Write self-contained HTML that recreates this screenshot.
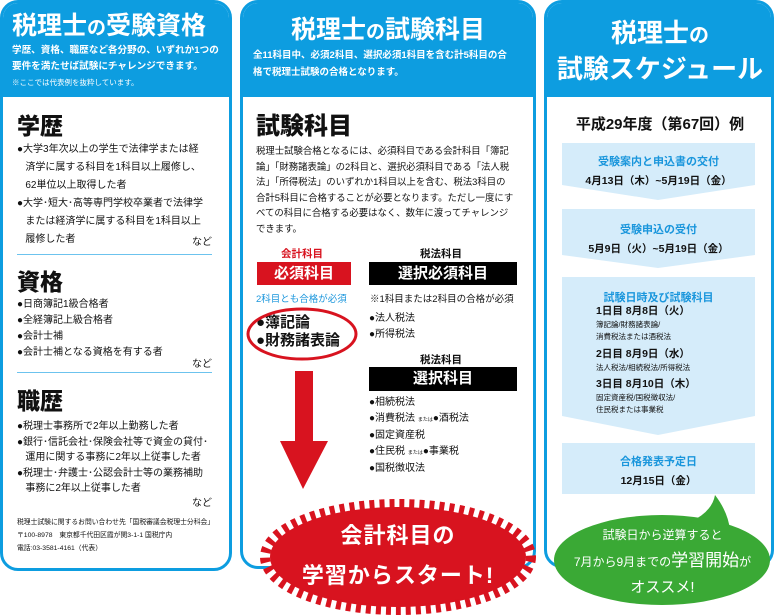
<!DOCTYPE html>
<html><head><meta charset="utf-8"><style>
*{margin:0;padding:0;box-sizing:border-box}
body{width:775px;height:616px;background:#fff;position:relative;overflow:hidden;font-family:"Liberation Sans","Noto Sans CJK JP",sans-serif;color:#111}
.a{position:absolute;white-space:nowrap}
.panel{position:absolute;border:3px solid #0d9de0;border-radius:18px;background:#fff;overflow:hidden}
.hd{position:absolute;left:0;right:0;top:0;background:#0d9de0}
.w{color:#fff}
.b{font-weight:bold}
.s11{font-size:10px}
.h{font-weight:900;font-size:23px;line-height:1}
.rule{position:absolute;height:1px;background:#6cc3ee}
.bl{color:#1a96dc;font-weight:bold}
</style></head><body>

<div class="panel" style="left:0;top:0;width:232px;height:571px">
 <div class="hd" style="height:94px"></div>
</div>
<div class="panel" style="left:240px;top:0;width:296px;height:569px">
 <div class="hd" style="height:94px"></div>
</div>
<div class="panel" style="left:544px;top:0;width:230px;height:568px">
 <div class="hd" style="height:94px"></div>
</div>

<!-- Panel 1 -->
<div class="a w b" style="left:12px;top:10px;font-size:25px;line-height:32px">税理士<span style="font-size:19px">の</span>受験資格</div>
<div class="a w b" style="left:12px;top:43px;font-size:9.6px;line-height:16px">学歴、資格、職歴など各分野の、いずれか1つの<br>要件を満たせば試験にチャレンジできます。</div>
<div class="a w" style="left:12px;top:77px;font-size:7.5px">※ここでは代表例を抜粋しています。</div>

<div class="a h" style="left:17px;top:115px">学歴</div>
<div class="a s11" style="left:17px;top:141px;line-height:18px">●大学3年次以上の学生で法律学または経<br>&nbsp;&nbsp;&nbsp;済学に属する科目を1科目以上履修し、<br>&nbsp;&nbsp;&nbsp;62単位以上取得した者<br>●大学･短大･高等専門学校卒業者で法律学<br>&nbsp;&nbsp;&nbsp;または経済学に属する科目を1科目以上<br>&nbsp;&nbsp;&nbsp;履修した者</div>
<div class="a s11" style="left:192px;top:233px">など</div>
<div class="rule" style="left:17px;top:254px;width:195px"></div>
<div class="a h" style="left:17px;top:271px">資格</div>
<div class="a s11" style="left:17px;top:297px;line-height:16px">●日商簿記1級合格者<br>●全経簿記上級合格者<br>●会計士補<br>●会計士補となる資格を有する者</div>
<div class="a s11" style="left:192px;top:355px">など</div>
<div class="rule" style="left:17px;top:372px;width:195px"></div>
<div class="a h" style="left:17px;top:390px">職歴</div>
<div class="a s11" style="left:17px;top:419px;line-height:15.5px">●税理士事務所で2年以上勤務した者<br>●銀行･信託会社･保険会社等で資金の貸付･<br>&nbsp;&nbsp;&nbsp;運用に関する事務に2年以上従事した者<br>●税理士･弁護士･公認会計士等の業務補助<br>&nbsp;&nbsp;&nbsp;事務に2年以上従事した者</div>
<div class="a s11" style="left:192px;top:494px">など</div>
<div class="a" style="left:17px;top:516px;font-size:6.8px;line-height:13px">税理士試験に関するお問い合わせ先「国税審議会税理士分科会」<br>〒100-8978　東京都千代田区霞が関3-1-1 国税庁内<br>電話:03-3581-4161（代表）</div>

<!-- Panel 2 -->
<div class="a w b" style="left:240px;top:14px;width:296px;text-align:center;font-size:25px;line-height:32px">税理士<span style="font-size:19px">の</span>試験科目</div>
<div class="a w b" style="left:253px;top:47px;font-size:9.5px;line-height:17px">全11科目中、必須2科目、選択必須1科目を含む計5科目の合<br>格で税理士試験の合格となります。</div>
<div class="a h" style="left:256px;top:115px;font-size:24px">試験科目</div>
<div class="a" style="left:256px;top:143px;font-size:9.4px;line-height:15.5px">税理士試験合格となるには、必須科目である会計科目「簿記<br>論」「財務諸表論」の2科目と、選択必須科目である「法人税<br>法」「所得税法」のいずれか1科目以上を含む、税法3科目の<br>合計5科目に合格することが必要となります。ただし一度にす<br>べての科目に合格する必要はなく、数年に渡ってチャレンジ<br>できます。</div>
<div class="a b" style="left:281px;top:246px;font-size:10.5px;color:#d8131f">会計科目</div>
<div class="a b" style="left:420px;top:246px;font-size:10.5px">税法科目</div>
<div class="a w b" style="left:257px;top:262px;width:94px;height:23px;background:#d8131f;font-size:15px;text-align:center;line-height:23px">必須科目</div>
<div class="a w b" style="left:369px;top:262px;width:148px;height:23px;background:#000;font-size:15px;text-align:center;line-height:23px">選択必須科目</div>
<div class="a" style="left:256px;top:291px;font-size:9.5px;color:#1a96dc">2科目とも合格が必須</div>
<div class="a" style="left:370px;top:291px;font-size:9.5px">※1科目または2科目の合格が必須</div>
<div class="a b" style="left:256px;top:314px;font-size:15px;line-height:18px">●簿記論<br>●財務諸表論</div>
<div class="a s11" style="left:369px;top:311px;line-height:16px">●法人税法<br>●所得税法</div>
<div class="a b" style="left:420px;top:352px;font-size:10.5px">税法科目</div>
<div class="a w b" style="left:369px;top:367px;width:148px;height:24px;background:#000;font-size:15px;text-align:center;line-height:24px">選択科目</div>
<div class="a s11" style="left:369px;top:395px;line-height:16px">●相続税法<br>●消費税法 <span style="font-size:5px">または</span>●酒税法<br>●固定資産税<br>●住民税 <span style="font-size:5px">または</span>●事業税<br>●国税徴収法</div>

<svg class="a" style="left:0;top:0" width="775" height="616">
 <ellipse cx="302" cy="334" rx="54" ry="25" fill="none" stroke="#d8131f" stroke-width="3"/>
 <polygon points="295,371 313,371 313,441 328,441 303,489 280,441 295,441" fill="#d8131f"/>
 <ellipse cx="398" cy="557" rx="128" ry="50" fill="#d8131f"/>
 <ellipse cx="398" cy="557" rx="133" ry="53" fill="none" stroke="#d8131f" stroke-width="10" stroke-dasharray="5 5"/>
 <ellipse cx="662" cy="560" rx="108" ry="45" fill="#3aa935"/>
 <path d="M690,522 Q712,512 715,495 Q728,512 730,530 Z" fill="#3aa935"/>
 <polygon points="562,143 755,143 755,185 658,200 562,185" fill="#d5ecfa"/>
 <polygon points="562,209 755,209 755,255 658,268 562,255" fill="#d5ecfa"/>
 <polygon points="562,277 755,277 755,416 658,435 562,416" fill="#d5ecfa"/>
 <rect x="562" y="443" width="193" height="51" fill="#d5ecfa"/>
</svg>
<div class="a w b" style="left:268px;top:516px;width:260px;text-align:center;font-size:22px;line-height:40px;letter-spacing:1px">会計科目の<br>学習からスタート!</div>

<!-- Panel 3 -->
<div class="a w b" style="left:546px;top:17px;width:228px;text-align:center;font-size:26px;line-height:33px">税理士<span style="font-size:20px">の</span><br>試験スケジュール</div>
<div class="a b" style="left:546px;top:113px;width:228px;text-align:center;font-size:15px">平成29年度（第67回）例</div>
<div class="a" style="left:562px;top:152px;width:193px;text-align:center;line-height:17px"><span class="bl" style="font-size:11px">受験案内と申込書の交付</span><br><b style="font-size:10.5px">4月13日（木）~5月19日（金）</b></div>
<div class="a" style="left:562px;top:220px;width:193px;text-align:center;line-height:17px"><span class="bl" style="font-size:11px">受験申込の受付</span><br><b style="font-size:10.5px">5月9日（火）~5月19日（金）</b></div>
<div class="a bl" style="left:562px;top:289px;width:193px;text-align:center;font-size:11px">試験日時及び試験科目</div>
<div class="a" style="left:596px;top:305px;font-size:7.5px;line-height:12.5px"><b style="font-size:10.5px">1日目 8月8日（火）</b><br>簿記論/財務諸表論/<br>消費税法または酒税法</div>
<div class="a" style="left:596px;top:348px;font-size:7.5px;line-height:12.5px"><b style="font-size:10.5px">2日目 8月9日（水）</b><br>法人税法/相続税法/所得税法</div>
<div class="a" style="left:596px;top:378px;font-size:7.5px;line-height:12.5px"><b style="font-size:10.5px">3日目 8月10日（木）</b><br>固定資産税/国税徴収法/<br>住民税または事業税</div>
<div class="a" style="left:562px;top:452px;width:193px;text-align:center;line-height:18px"><span class="bl" style="font-size:11px">合格発表予定日</span><br><b style="font-size:10.5px">12月15日（金）</b></div>
<div class="a w" style="left:555px;top:522px;width:215px;text-align:center;font-size:12px;line-height:26px">試験日から逆算すると<br>7月から9月までの<span style="font-size:17px">学習開始</span>が<br><span style="font-size:15px">オススメ!</span></div>
</body></html>
